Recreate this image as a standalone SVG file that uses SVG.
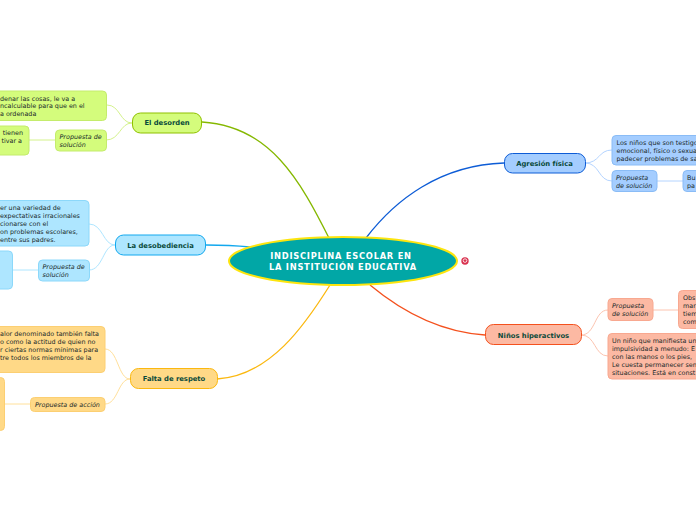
<svg xmlns="http://www.w3.org/2000/svg" width="696" height="520" viewBox="0 0 696 520">
<style>
text{font-family:"DejaVu Sans",Verdana,sans-serif;font-size:6.4px;fill:#1a2a2a}
.m{font-size:6.8px;font-weight:bold;fill:#0a4a3a;text-anchor:middle}
.i{font-style:italic}
.c{fill:none;stroke-width:1}
.g{fill:#d4fc7c;stroke:#c4ec6c}
.b{fill:#aee6ff;stroke:#8cd8fa}
.o{fill:#ffd987;stroke:#fccf72}
.a{fill:#a4cdff;stroke:#8abcf6}
.r{fill:#fcb9a3;stroke:#f8a890}
</style>
<g id="connectors" fill="none">
<path d="M202 122C270 126 300 180 330 240" stroke="#85b800" stroke-width="1.300"/>
<path d="M206 245C225 245 240 246 250 247" stroke="#12a8ee" stroke-width="1.300"/>
<path d="M217 379C270 376 305 325 330 285" stroke="#fbb80f" stroke-width="1.300"/>
<path d="M504 163C440 165 395 200 366 238" stroke="#0d5cd6" stroke-width="1.300"/>
<path d="M485 335C440 332 400 310 370 285" stroke="#f4511e" stroke-width="1.300"/>
<path d="M132 123C120 123 120 105 107 105M132 123C120 123 120 140 106 140M55 140H29" stroke="#d4f28c"/>
<path d="M115 245C103 245 103 224 89 224M115 245C103 245 103 270 89 270M38 270H12" stroke="#aee6ff"/>
<path d="M130 379C118 379 118 349 105 349M130 379C118 379 118 404 105 404M30 404H5" stroke="#ffe09a"/>
<path d="M585 163C600 163 598 150 612 150M585 163C600 163 598 181 612 181M657 181H683" stroke="#b4d4ff"/>
<path d="M581 335C596 335 594 310 608 310M581 335C596 335 594 356 608 356M653 310H678" stroke="#fcc4b0"/>
</g>
<g id="center">
<ellipse cx="343" cy="261" rx="114" ry="24" fill="#01a7a6" stroke="#fde50e" stroke-width="2"/>
<text x="341" y="259" text-anchor="middle" style="font-size:8.3px;font-weight:bold;fill:#fff;letter-spacing:.75px">INDISCIPLINA ESCOLAR EN</text>
<text x="343" y="270" text-anchor="middle" style="font-size:8.3px;font-weight:bold;fill:#fff;letter-spacing:.75px">LA INSTITUCIÓN EDUCATIVA</text>
</g>
<g id="icon">
<circle cx="465" cy="261" r="3.700" fill="#d9324f"/>
<circle cx="465" cy="260.600" r="1.800" fill="none" stroke="#fff" stroke-width=".8"/>
</g>
<g id="desorden">
<rect class="g" x="132.500" y="113" width="69" height="20" rx="8" style="stroke:#8fc000"/>
<text class="m" x="167" y="125">El desorden</text>
</g>
<g id="desorden-1">
<rect class="g" x="-10" y="91" width="116.500" height="29.500" rx="4"/>
<text x="0" y="100.500">denar las cosas, le va a</text>
<text x="0" y="108">ncalculable para que en el</text>
<text x="0" y="116">a ordenada</text>
</g>
<g id="desorden-2">
<rect class="g" x="-10" y="126" width="39" height="29" rx="4"/>
<text x="23" y="134.500" text-anchor="end">tienen</text>
<text x="22" y="142.500" text-anchor="end">tivar a</text>
</g>
<g id="desorden-3">
<rect class="g" x="55.500" y="130" width="51" height="21" rx="4"/>
<text class="i" x="59.500" y="138.500">Propuesta de</text>
<text class="i" x="59.500" y="147">solución</text>
</g>
<g id="desobediencia">
<rect class="b" x="115.500" y="235" width="90" height="20" rx="8" style="stroke:#12a8ee"/>
<text class="m" x="160.500" y="247.500">La desobediencia</text>
</g>
<g id="desobediencia-1">
<rect class="b" x="-10" y="200.500" width="99" height="45.500" rx="4"/>
<text x="0" y="209.500">er una variedad de</text>
<text x="0" y="217.500">expectativas irracionales</text>
<text x="0" y="225.500">cionarse con el</text>
<text x="0" y="233.500">on problemas escolares,</text>
<text x="0" y="241.500">entre sus padres.</text>
</g>
<g id="desobediencia-2">
<rect class="b" x="-10" y="251" width="22.500" height="38" rx="4"/>
</g>
<g id="desobediencia-3">
<rect class="b" x="38.500" y="260" width="51" height="21" rx="4"/>
<text class="i" x="42.500" y="269">Propuesta de</text>
<text class="i" x="42.500" y="277">solución</text>
</g>
<g id="respeto">
<rect class="o" x="130.500" y="368.500" width="87" height="20" rx="8" style="stroke:#fbb80f"/>
<text class="m" x="174" y="381">Falta de respeto</text>
</g>
<g id="respeto-1">
<rect class="o" x="-10" y="326.500" width="115" height="46" rx="4"/>
<text x="0" y="336">alor denominado también falta</text>
<text x="0" y="344">o como la actitud de quien no</text>
<text x="0" y="352">r ciertas normas mínimas para</text>
<text x="0" y="360">tre todos los miembros de la</text>
</g>
<g id="respeto-2">
<rect class="o" x="-10" y="377.500" width="14.500" height="53" rx="4"/>
</g>
<g id="respeto-3">
<rect class="o" x="30.500" y="397.500" width="74.500" height="14" rx="4"/>
<text class="i" x="35" y="407">Propuesta de acción</text>
</g>
<g id="agresion">
<rect class="a" x="504.500" y="153.500" width="81" height="19.500" rx="8" style="stroke:#0d5cd6"/>
<text class="m" x="544.500" y="165.500">Agresión física</text>
</g>
<g id="agresion-1">
<rect class="a" x="612" y="135.500" width="95" height="29.500" rx="4"/>
<text x="616.500" y="145">Los niños que son testigos</text>
<text x="616.500" y="153">emocional, físico o sexual</text>
<text x="616.500" y="161">padecer problemas de salud</text>
</g>
<g id="agresion-2">
<rect class="a" x="612" y="170.500" width="45" height="21" rx="4"/>
<text class="i" x="616" y="179.500">Propuesta</text>
<text class="i" x="616" y="187.500">de solución</text>
</g>
<g id="agresion-3">
<rect class="a" x="683" y="170.500" width="25" height="21" rx="4"/>
<text x="687" y="179.500">Bu</text>
<text x="687" y="187.500">pa</text>
</g>
<g id="ninos">
<rect class="r" x="485.500" y="324.500" width="96" height="20" rx="8" style="stroke:#f4511e"/>
<text class="m" x="533.500" y="337.500">Niños hiperactivos</text>
</g>
<g id="ninos-1">
<rect class="r" x="608" y="298.500" width="45" height="22" rx="4"/>
<text class="i" x="612" y="308">Propuesta</text>
<text class="i" x="612" y="316">de solución</text>
</g>
<g id="ninos-2">
<rect class="r" x="678.500" y="290.500" width="30" height="38" rx="4"/>
<text x="683" y="300">Obs</text>
<text x="683" y="308">mar</text>
<text x="683" y="316">tiem</text>
<text x="683" y="324">com</text>
</g>
<g id="ninos-3">
<rect class="r" x="608" y="333.500" width="100" height="45.500" rx="4"/>
<text x="612" y="343">Un niño que manifiesta un</text>
<text x="612" y="351">impulsividad a menudo: E</text>
<text x="612" y="359">con las manos o los pies,</text>
<text x="612" y="367">Le cuesta permanecer sen</text>
<text x="612" y="375">situaciones. Está en const</text>
</g>
</svg>
